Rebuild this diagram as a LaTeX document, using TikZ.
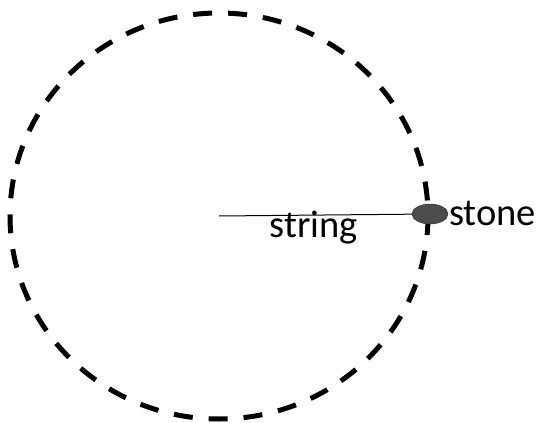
\documentclass[tikz,border=0pt]{standalone}
\usepackage{fontspec}
\setmainfont{Carlito}
\usetikzlibrary{shapes.geometric,positioning}
\tikzstyle{Orbit} = [draw, line width=5pt, dash pattern=on 19pt off 16pt]
\tikzstyle{Stone} = [draw=black!85, fill=black!70, ellipse, minimum width=36pt, minimum height=20pt, inner sep=0pt]
\tikzstyle{Label} = [font=\fontsize{38.5}{42}\selectfont, inner sep=0pt, anchor=base]
\begin{document}
\begin{tikzpicture}[x=1pt, y=-1pt]
    \useasboundingbox (0,0) rectangle (541,423);
    \coordinate (center) at (219,216);
    \draw[Orbit] (center) ellipse [x radius=209, y radius=203];
    \node[Stone] (stone) at (430,214) {};
    \draw[line width=1pt] (center) to (stone);
    \node[Label] (stringlabel) at (314,237) {string};
    \node[Label] (stonelabel) at (492.5,225) {stone};
  \end{tikzpicture}
\end{document}
